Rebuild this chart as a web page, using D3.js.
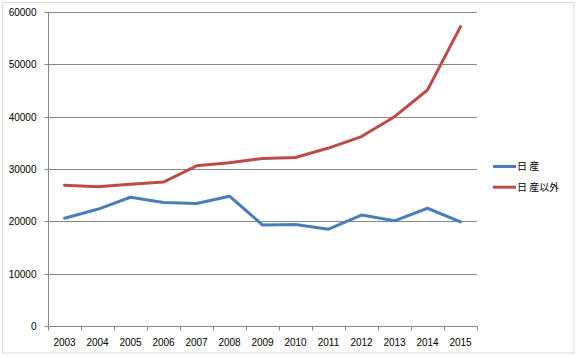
<!DOCTYPE html>
<html><head><meta charset="utf-8">
<script src="https://cdn.jsdelivr.net/npm/d3@7"></script>
<style>body{margin:0;background:#fff;}svg{display:block;}</style>
</head><body>
<svg id="c" width="578" height="357"></svg>
<script>
const years = ["2003","2004","2005","2006","2007","2008","2009","2010","2011","2012","2013","2014","2015"];
const nissan = [20600,22300,24600,23600,23400,24800,19300,19400,18500,21200,20100,22500,19900];
const others = [26900,26600,27100,27500,30600,31200,32000,32200,34000,36200,40000,45100,57200];
const yTicks = [0,10000,20000,30000,40000,50000,60000];
const seriesNames = ["日 産","日 産以外"];
const seriesColors = ["#4a7ebb","#be4b48"];

const svg = d3.select("#c");
const font = "'Liberation Sans', Arial, sans-serif";
// chart border
svg.append("rect").attr("x",2.5).attr("y",2.5).attr("width",571.5).attr("height",350.5)
  .attr("fill","none").attr("stroke","#d9d9d9").attr("stroke-width",1);

const L=48, R=477, T=12, B=326;
const x = d3.scaleBand().domain(years).range([L,R]).padding(0);
const y = d3.scaleLinear().domain([0,60000]).range([B,T]);

// gridlines
svg.append("g").selectAll("line").data(yTicks.filter(d=>d>0)).join("line")
  .attr("x1",L).attr("x2",R).attr("y1",d=>Math.round(y(d))+0.5).attr("y2",d=>Math.round(y(d))+0.5)
  .attr("stroke","#868686").attr("stroke-width",1);

// y axis
const ya = svg.append("g").attr("transform",`translate(${L+0.5},0)`)
  .call(d3.axisLeft(y).tickValues(yTicks).tickSize(4).tickPadding(8).tickFormat(d3.format("d")));
ya.select(".domain").attr("stroke","#868686").attr("d",`M0,${T}V${B}`);
ya.selectAll(".tick line").attr("stroke","#868686");
ya.selectAll(".tick").attr("transform",d=>`translate(0,${Math.round(y(d))+0.5})`);
ya.selectAll("text").attr("font-family",font).attr("font-size",10).attr("fill","#000");

// x axis
const xa = svg.append("g").attr("transform",`translate(0,${B+0.5})`)
  .call(d3.axisBottom(x).tickSize(0).tickPadding(12));
xa.select(".domain").attr("stroke","#868686").attr("d",`M${L},0H${R}`);
xa.selectAll("text").attr("font-family",font).attr("font-size",10).attr("fill","#000");
// tick marks at band boundaries
const bounds = years.map(d=>x(d)).concat([R]);
xa.append("g").selectAll("line").data(bounds).join("line")
  .attr("x1",d=>Math.round(d)+0.5).attr("x2",d=>Math.round(d)+0.5).attr("y1",0).attr("y2",4)
  .attr("stroke","#868686");

// lines
const line = d3.line().x((d,i)=>x(years[i])+x.bandwidth()/2).y(d=>y(d));
[nissan, others].forEach((s,i)=>{
  svg.append("path").datum(s).attr("d",line).attr("fill","none")
    .attr("stroke",seriesColors[i]).attr("stroke-width",3).attr("stroke-linejoin","round").attr("stroke-linecap","round");
});

// legend
const lg = svg.append("g");
seriesNames.forEach((n,i)=>{
  const ly = 166.5 + i*20.7;
  lg.append("line").attr("x1",493).attr("x2",516).attr("y1",ly).attr("y2",ly)
    .attr("stroke",seriesColors[i]).attr("stroke-width",3);
  lg.append("text").attr("x",517).attr("y",ly+3.5).text(n)
    .attr("font-family","'Noto Sans CJK JP', sans-serif").attr("font-size",10).attr("fill","#000")
    .attr("xml:space","preserve").style("white-space","pre");
});
</script>
</body></html>
